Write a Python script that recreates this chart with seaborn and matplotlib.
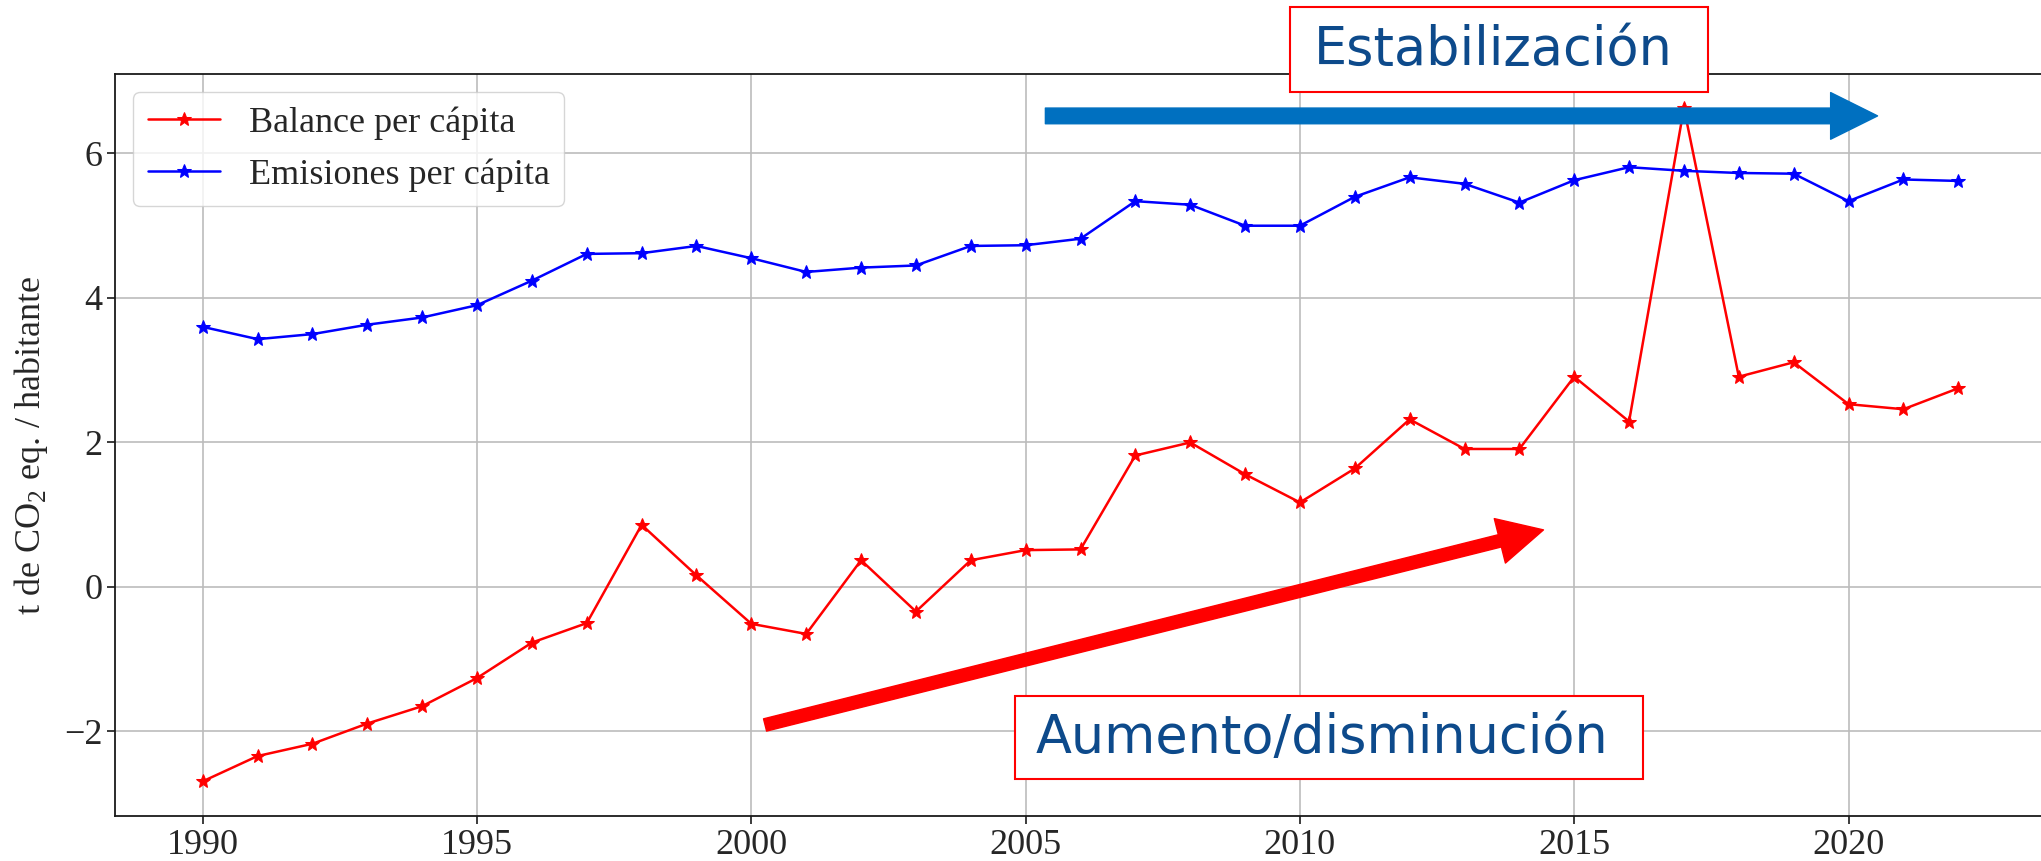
import pandas as pd
import matplotlib.pyplot as plt
import matplotlib.patches as mpatches
import seaborn as sns

# datos
years = list(range(1990, 2023))
balance = [-2.69, -2.34, -2.17, -1.89, -1.65, -1.26, -0.77, -0.50, 0.86, 0.16,
           -0.51, -0.65, 0.37, -0.34, 0.37, 0.51, 0.52, 1.82, 2.00, 1.56,
           1.17, 1.64, 2.32, 1.91, 1.91, 2.91, 2.29, 6.63, 2.91, 3.11,
           2.53, 2.46, 2.75]
emisiones = [3.60, 3.43, 3.50, 3.63, 3.73, 3.90, 4.24, 4.61, 4.62, 4.72,
             4.55, 4.36, 4.42, 4.45, 4.72, 4.73, 4.82, 5.34, 5.29, 5.00,
             5.00, 5.40, 5.67, 5.58, 5.32, 5.63, 5.81, 5.76, 5.73, 5.72,
             5.34, 5.64, 5.62]
series_names = ['Balance per cápita', 'Emisiones per cápita']
series_colors = ['red', 'blue']
ylabel = r't de CO$_2$ eq. / habitante'
text_up = 'Estabilización'
text_down = 'Aumento/disminución'

df = pd.DataFrame({'year': years, series_names[0]: balance, series_names[1]: emisiones})

sns.set_style('whitegrid', {'grid.color': '#bcbcbc', 'axes.edgecolor': '#1a1a1a'})
plt.rcParams['font.family'] = ['Liberation Serif', 'DejaVu Serif']
plt.rcParams['mathtext.fontset'] = 'custom'
plt.rcParams['mathtext.rm'] = 'Liberation Serif'

fig = plt.figure(figsize=(20.41, 8.61), dpi=100)
ax = fig.add_axes([115 / 2041, 1 - 816 / 861, (2046 - 115) / 2041, (816 - 74) / 861])

for name, col in zip(series_names, series_colors):
    sns.lineplot(data=df, x='year', y=name, ax=ax, color=col, marker='*',
                 markersize=10, markeredgecolor=col, linewidth=1.8, label=name)

ax.set_xlim(1988.4, 2023.6)
ax.set_ylim(-3.17, 7.1)
ax.set_xticks([1990, 1995, 2000, 2005, 2010, 2015, 2020])
ax.set_yticks([-2, 0, 2, 4, 6])
ax.set_xticklabels(['1990', '1995', '2000', '2005', '2010', '2015', '2020'])
ax.set_yticklabels(['\u22122', '0', '2', '4', '6'])
ax.set_xlabel('')
ax.set_ylabel(ylabel, fontsize=26, labelpad=10)
ax.tick_params(axis='both', labelsize=26, length=5.5, width=1.2, color='#1a1a1a',
               direction='out', bottom=True, left=True)
ax.grid(True, linewidth=1.2)
for s in ax.spines.values():
    s.set_linewidth(1.3)

ax.legend(loc='upper left', fontsize=26, frameon=True, fancybox=True,
          framealpha=0.8, edgecolor='#cccccc', handlelength=2.0)

# flechas
blue_arrow = mpatches.FancyArrowPatch((2005.36, 6.52), (2020.53, 6.52),
                                      arrowstyle='simple,head_width=33.6,head_length=33.8,tail_width=11.3',
                                      mutation_scale=1, color='#0070C0', shrinkA=0, shrinkB=0, zorder=5)
ax.add_patch(blue_arrow)
red_arrow = mpatches.FancyArrowPatch((2000.25, -1.91), (2014.44, 0.79),
                                     arrowstyle='simple,head_width=33,head_length=32.4,tail_width=9.1',
                                     mutation_scale=1, color='#FF0000', shrinkA=0, shrinkB=0, zorder=5)
ax.add_patch(red_arrow)

# cajas de texto (coordenadas en pixeles de la figura)
W, H = 2041, 861
for (x0, y0, x1, y1, tx, txt) in [(1290, 7, 1708, 92, 1314, text_up),
                                  (1015, 696, 1643, 779, 1036, text_down)]:
    rect = mpatches.Rectangle((x0 / W, 1 - y1 / H), (x1 - x0) / W, (y1 - y0) / H,
                              transform=fig.transFigure, facecolor='white',
                              edgecolor='red', linewidth=1.5, zorder=10)
    fig.add_artist(rect)
    fig.text(tx / W, 1 - (y0 + y1) / 2 / H, txt, fontsize=37.8, color='#0D4A8B',
             family='DejaVu Sans', ha='left', va='center', zorder=11)

fig.savefig('out.png', dpi=100)
